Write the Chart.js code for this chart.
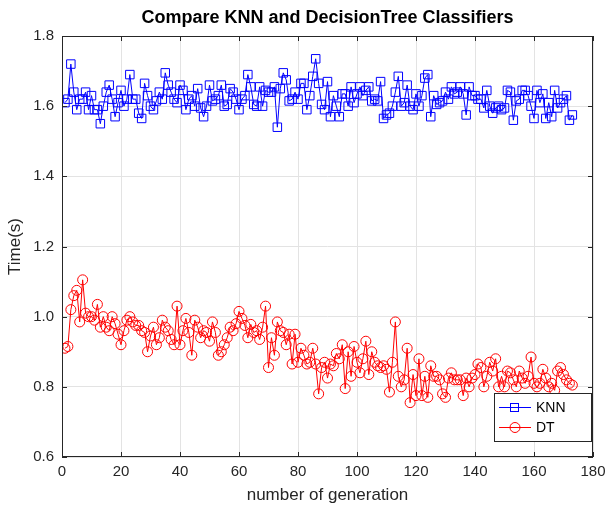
<!DOCTYPE html>
<html>
<head>
<meta charset="utf-8">
<script src="https://cdn.jsdelivr.net/npm/chart.js@4/dist/chart.umd.min.js"></script>
<style>
  html, body { margin: 0; padding: 0; background: #fff; }
  #wrap { width: 605px; height: 506px; position: relative; }
</style>
</head>
<body>
<div id="wrap"><canvas id="c"></canvas></div>
<script>
const chartTitle = 'Compare KNN and DecisionTree Classifiers';
const xTicks = [0, 20, 40, 60, 80, 100, 120, 140, 160, 180];
const yTicks = [0.6, 0.8, 1, 1.2, 1.4, 1.6, 1.8];

const knnTime = [
  1.61, 1.62, 1.72, 1.64, 1.59, 1.62, 1.62, 1.64, 1.59, 1.63,
  1.59, 1.59, 1.55, 1.60, 1.64, 1.66, 1.62, 1.57, 1.61, 1.645,
  1.60, 1.62, 1.69, 1.62, 1.62, 1.58, 1.565, 1.665, 1.63, 1.60,
  1.59, 1.615, 1.64, 1.62, 1.695, 1.66, 1.64, 1.62, 1.61, 1.66,
  1.645, 1.59, 1.62, 1.63, 1.60, 1.65, 1.595, 1.57, 1.60, 1.66,
  1.615, 1.62, 1.63, 1.66, 1.60, 1.605, 1.65, 1.64, 1.62, 1.59,
  1.62, 1.63, 1.69, 1.655, 1.605, 1.60, 1.655, 1.60, 1.645, 1.64,
  1.64, 1.655, 1.54, 1.65, 1.695, 1.675, 1.615, 1.62, 1.64, 1.62,
  1.665, 1.665, 1.59, 1.63, 1.685, 1.735, 1.665, 1.605, 1.59, 1.67,
  1.57, 1.63, 1.60, 1.57, 1.635, 1.635, 1.60, 1.655, 1.61, 1.635,
  1.655, 1.63, 1.645, 1.655, 1.615, 1.62, 1.615, 1.67, 1.565, 1.575,
  1.58, 1.60, 1.64, 1.685, 1.60, 1.61, 1.66, 1.60, 1.59, 1.635,
  1.60, 1.63, 1.68, 1.69, 1.57, 1.63, 1.605, 1.61, 1.615, 1.64,
  1.62, 1.655, 1.635, 1.64, 1.655, 1.635, 1.575, 1.655, 1.63, 1.63,
  1.62, 1.62, 1.595, 1.645, 1.60, 1.58, 1.595, 1.60, 1.59, 1.595,
  1.645, 1.64, 1.56, 1.615, 1.62, 1.645, 1.645, 1.63, 1.60, 1.565,
  1.645, 1.61, 1.635, 1.565, 1.61, 1.57, 1.645, 1.595, 1.61, 1.62,
  1.63, 1.56, 1.575
];

const dtTime = [
  0.91, 0.915, 1.02, 1.06, 1.075, 0.985, 1.105, 1.01, 1.0, 1.0,
  0.99, 1.035, 0.97, 1.0, 0.97, 0.96, 1.0, 0.98, 0.95, 0.92,
  0.96, 0.99, 1.0, 0.985, 0.975, 0.975, 0.96, 0.955, 0.90, 0.945,
  0.97, 0.92, 0.94, 0.99, 0.97, 0.96, 0.935, 0.92, 1.03, 0.92,
  0.96, 0.995, 0.955, 0.89, 0.99, 0.97, 0.94, 0.96, 0.955, 0.93,
  0.985, 0.955, 0.89, 0.90, 0.92, 0.94, 0.97, 0.96, 0.98, 1.015,
  0.995, 0.975, 0.94, 0.978, 0.955, 0.96, 0.935, 0.97, 1.03, 0.855,
  0.94, 0.89, 0.985, 0.96, 0.955, 0.92, 0.95, 0.865, 0.95, 0.87,
  0.91, 0.89, 0.865, 0.87, 0.91, 0.865, 0.78, 0.855, 0.87, 0.825,
  0.865, 0.86, 0.895, 0.88, 0.92, 0.795, 0.90, 0.83, 0.915, 0.87,
  0.84, 0.88, 0.93, 0.835, 0.90, 0.87, 0.86, 0.855, 0.86, 0.85,
  0.785, 0.87, 0.985, 0.83, 0.80, 0.82, 0.91, 0.755, 0.835, 0.775,
  0.88, 0.775, 0.83, 0.77, 0.86, 0.83, 0.83, 0.82, 0.78, 0.77,
  0.825, 0.84, 0.82, 0.82, 0.82, 0.775, 0.825, 0.80, 0.825, 0.835,
  0.865, 0.855, 0.80, 0.83, 0.87, 0.845, 0.88, 0.80, 0.83, 0.80,
  0.845, 0.84, 0.82, 0.80, 0.845, 0.825, 0.81, 0.83, 0.885, 0.81,
  0.80, 0.81, 0.85, 0.825, 0.80, 0.81, 0.79, 0.845, 0.855, 0.835,
  0.82, 0.81, 0.805
];

const generations = knnTime.map((_, i) => i + 1);

const AX = '#262626';
const FONT = "'Liberation Sans', Arial, sans-serif";

// MATLAB-ish box, inward ticks, title over the axes and an in-plot legend
const matlabAxes = {
  id: 'matlabAxes',
  afterDraw(chart) {
    const { ctx, chartArea: a, scales } = chart;
    ctx.save();
    ctx.strokeStyle = AX;
    ctx.lineWidth = 1;
    ctx.strokeRect(Math.round(a.left) + 0.5, Math.round(a.top) + 0.5,
      Math.round(a.right - a.left) - 1, Math.round(a.bottom - a.top) - 1);
    ctx.beginPath();
    xTicks.forEach(v => {
      const x = Math.round(scales.x.getPixelForValue(v)) + 0.5;
      ctx.moveTo(x, a.bottom); ctx.lineTo(x, a.bottom - 5);
      ctx.moveTo(x, a.top); ctx.lineTo(x, a.top + 5);
    });
    yTicks.forEach(v => {
      const y = Math.round(scales.y.getPixelForValue(v)) + 0.5;
      ctx.moveTo(a.left, y); ctx.lineTo(a.left + 5, y);
      ctx.moveTo(a.right, y); ctx.lineTo(a.right - 5, y);
    });
    ctx.stroke();

    // title, centred on the axes
    ctx.fillStyle = '#000';
    ctx.font = 'bold 18px ' + FONT;
    ctx.textAlign = 'center';
    ctx.textBaseline = 'middle';
    ctx.fillText(chartTitle, (a.left + a.right) / 2, 18);

    // legend
    const lx = 494, ly = 393, lw = 97, lh = 48;
    ctx.fillStyle = '#fff';
    ctx.fillRect(lx, ly, lw, lh);
    ctx.strokeStyle = AX;
    ctx.strokeRect(lx + 0.5, ly + 0.5, lw, lh);
    ctx.font = '14px ' + FONT;
    ctx.textAlign = 'left';
    chart.data.datasets.forEach((ds, i) => {
      const y = ly + 14 + i * 20;
      ctx.strokeStyle = ds.borderColor;
      ctx.beginPath();
      ctx.moveTo(lx + 5, y + 0.5); ctx.lineTo(lx + 37, y + 0.5);
      ctx.stroke();
      if (ds.pointStyle === 'rect') {
        ctx.strokeRect(lx + 16.5, y - 3.5, 8, 8);
      } else {
        ctx.beginPath();
        ctx.arc(lx + 21, y + 0.5, 5, 0, Math.PI * 2);
        ctx.stroke();
      }
      ctx.fillStyle = '#000';
      ctx.fillText(ds.label, lx + 42, y + 1);
    });
    ctx.restore();
  }
};

new Chart(document.getElementById('c'), {
  type: 'line',
  data: {
    labels: generations,
    datasets: [
      {
        label: 'KNN',
        data: knnTime.map((v, i) => ({ x: generations[i], y: v })),
        borderColor: '#0000ff',
        backgroundColor: 'rgba(0,0,0,0)',
        borderWidth: 1,
        pointStyle: 'rect',
        pointRadius: 6,
        pointBorderWidth: 1,
        tension: 0,
      },
      {
        label: 'DT',
        data: dtTime.map((v, i) => ({ x: generations[i], y: v })),
        borderColor: '#ff0000',
        backgroundColor: 'rgba(0,0,0,0)',
        borderWidth: 1,
        pointStyle: 'circle',
        pointRadius: 5,
        pointBorderWidth: 1,
        tension: 0,
      },
    ],
  },
  options: {
    responsive: true,
    maintainAspectRatio: false,
    animation: false,
    layout: { padding: { top: 36, right: 0, bottom: 0, left: 0 } },
    plugins: {
      legend: { display: false },
      tooltip: { enabled: false },
      title: { display: false },
    },
    scales: {
      x: {
        type: 'linear',
        min: 0, max: 180,
        afterBuildTicks: s => { s.ticks = xTicks.map(v => ({ value: v })); },
        afterFit: s => { s.height = 49; s.paddingRight = 12; },
        ticks: { color: AX, font: { family: FONT, size: 15 }, padding: 6, maxRotation: 0 },
        grid: { color: '#e3e3e3', drawTicks: false },
        border: { display: false },
        title: { display: true, text: 'number of generation', color: AX, font: { family: FONT, size: 17 }, padding: { top: 0, bottom: 0 } },
      },
      y: {
        min: 0.6, max: 1.8,
        afterBuildTicks: s => { s.ticks = yTicks.map(v => ({ value: v })); },
        afterFit: s => { s.width = 62; },
        ticks: { color: AX, font: { family: FONT, size: 15 }, padding: 8 },
        grid: { color: '#e3e3e3', drawTicks: false },
        border: { display: false },
        title: { display: true, text: 'Time(s)', color: AX, font: { family: FONT, size: 17 }, padding: { top: 5, bottom: 4 } },
      },
    },
  },
  plugins: [matlabAxes],
});
</script>
</body>
</html>
